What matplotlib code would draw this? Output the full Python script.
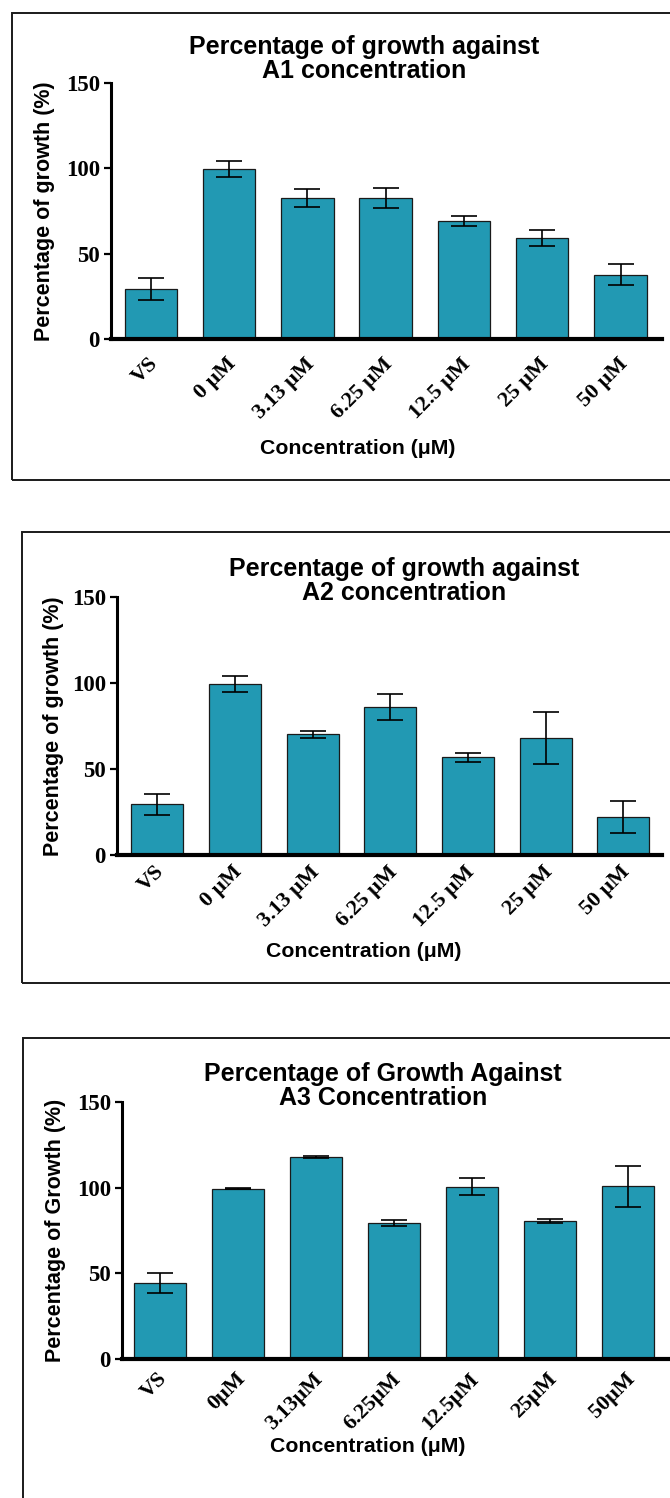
import matplotlib
matplotlib.use("Agg")
import matplotlib.pyplot as plt
import numpy as np
from matplotlib.patches import Rectangle
from matplotlib.transforms import ScaledTranslation

# ---- data -------------------------------------------------------------
labels_a12 = ["VS", "0 μM", "3.13 μM", "6.25 μM", "12.5 μM", "25 μM", "50 μM"]
labels_a3 = ["VS", "0μM", "3.13μM", "6.25μM", "12.5μM", "25μM", "50μM"]

growth_a1 = [29.2, 99.7, 82.7, 82.7, 69.3, 59.2, 37.7]
sem_a1 = [6.4, 4.6, 5.3, 6.0, 2.8, 4.8, 6.1]

growth_a2 = [29.4, 99.4, 70.1, 85.9, 56.7, 67.9, 22.1]
sem_a2 = [6.3, 4.6, 1.8, 7.5, 2.7, 15.2, 9.5]

growth_a3 = [44.3, 99.5, 117.8, 79.4, 100.6, 80.5, 100.8]
sem_a3 = [6.0, 0.3, 0.6, 1.7, 5.0, 1.0, 11.8]

titles = ["Percentage of growth against\nA1 concentration",
          "Percentage of growth against\nA2 concentration",
          "Percentage of Growth Against\nA3 Concentration"]
ylabels = ["Percentage of growth (%)", "Percentage of growth (%)",
           "Percentage of Growth (%)"]
xlabel = "Concentration (μM)"
yticks = [0, 50, 100, 150]

# ---- style ------------------------------------------------------------
W, H, DPI = 670, 1498, 100
BAR = "#2299B3"
EDGE = "#1a1a1a"
SANS = "Liberation Sans"
SERIF = "Liberation Serif"

fig = plt.figure(figsize=(W / DPI, H / DPI), dpi=DPI)
fig.patch.set_facecolor("white")


def px_axes(l, t, r, b):
    return fig.add_axes([l / W, 1 - b / H, (r - l) / W, (b - t) / H])


def fig_xy(x, y):
    return x / W, 1 - y / H


# panel layout in pixels: frame (left, top, bottom), axes box, xlim,
# tick-label drop, title / xlabel / ylabel centres
panels = [
    dict(means=growth_a1, err=sem_a1, labels=labels_a12, title=titles[0],
         ylabel=ylabels[0], frame=(12, 13, 480), box=(111, 83, 662, 339),
         xlim=(-0.51, 6.53), drop=22,
         tpos=(364, 59), xpos=(358, 448), ypos=(45, 211)),
    dict(means=growth_a2, err=sem_a2, labels=labels_a12, title=titles[1],
         ylabel=ylabels[1], frame=(22, 532, 983), box=(117, 597, 662, 855),
         xlim=(-0.52, 6.50), drop=14,
         tpos=(404, 581), xpos=(364, 952), ypos=(54, 726)),
    dict(means=growth_a3, err=sem_a3, labels=labels_a3, title=titles[2],
         ylabel=ylabels[2], frame=(23, 1038, 1560), box=(122, 1102, 668, 1359),
         xlim=(-0.49, 6.51), drop=17,
         tpos=(383, 1086), xpos=(368, 1447), ypos=(56, 1230)),
]

for p in panels:
    # outer frame around each graph
    fl, ft, fb = p["frame"]
    fx, fy = fig_xy(fl, fb)
    fig.patches.append(Rectangle((fx, fy), (720 - fl) / W, (fb - ft) / H,
                                 transform=fig.transFigure, fill=False,
                                 lw=1.4, ec=EDGE, zorder=0))

    ax = px_axes(*p["box"])
    x = np.arange(len(p["labels"]))
    ax.bar(x, p["means"], width=0.67, color=BAR, edgecolor=EDGE,
           linewidth=0.9, zorder=2)
    ax.errorbar(x, p["means"], yerr=p["err"], fmt="none", ecolor="black",
                elinewidth=1.2, capsize=9.4, capthick=1.2, zorder=3)

    for s in ("top", "right"):
        ax.spines[s].set_visible(False)
    ax.spines["left"].set_linewidth(2.2)
    ax.spines["bottom"].set_linewidth(3.0)
    ax.tick_params(axis="x", length=0, pad=0)
    ax.tick_params(axis="y", length=5, width=1.6, pad=3)
    ax.set_facecolor("none")

    ax.set_xlim(*p["xlim"])
    ax.set_ylim(0, 150)
    ax.set_yticks(yticks)
    ax.set_yticklabels([str(v) for v in yticks], fontfamily=SERIF,
                       fontweight="bold", fontsize=16.5)
    ax.set_xticks(x)
    ax.set_xticklabels(p["labels"], rotation=45, ha="right", va="center",
                       rotation_mode="anchor", fontfamily=SERIF,
                       fontweight="bold", fontsize=15.8)
    # slanted category labels sit a little below and right of each bar
    shift = ScaledTranslation(4 / DPI, -p["drop"] / DPI, fig.dpi_scale_trans)
    for lbl in ax.get_xticklabels():
        lbl.set_transform(lbl.get_transform() + shift)

    tx, ty = fig_xy(*p["tpos"])
    fig.text(tx, ty, p["title"], ha="center", va="center", fontfamily=SANS,
             fontweight="bold", fontsize=18, linespacing=1.05)
    lx, ly = fig_xy(*p["xpos"])
    fig.text(lx, ly, xlabel, ha="center", va="center", fontfamily=SANS,
             fontweight="bold", fontsize=15.3)
    yx, yy = fig_xy(*p["ypos"])
    fig.text(yx, yy, p["ylabel"], ha="center", va="center", rotation=90,
             fontfamily=SANS, fontweight="bold", fontsize=15.5)

fig.savefig("out.png", dpi=DPI)
